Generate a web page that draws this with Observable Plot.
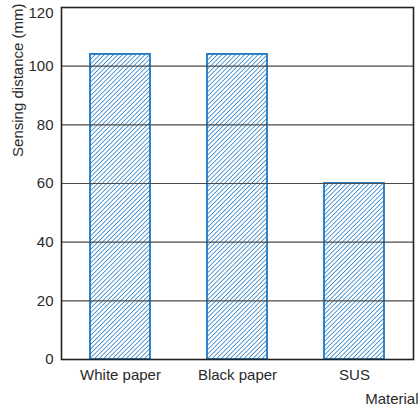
<!DOCTYPE html>
<html><head><meta charset="utf-8">
<script src="https://cdn.jsdelivr.net/npm/d3@7"></script>
<script src="https://cdn.jsdelivr.net/npm/@observablehq/plot@0.6"></script>
<style>body{margin:0;background:#fff}svg{font-family:"Liberation Sans",Arial,sans-serif}</style>
</head><body><div id="chart"></div>
<script>
const materials = ["White paper", "Black paper", "SUS"];
const distances = [104, 104, 60];
const yTicks = [0, 20, 40, 60, 80, 100];
const yTopTick = [120];
const gridValues = [20, 40, 60, 80, 100];
const yLabel = "Sensing distance (mm)";
const xLabel = "Material";

const data = materials.map((m, i) => ({material: m, distance: distances[i]}));
const blue = "#1c78c4";

const chart = Plot.plot({
  width: 420, height: 412,
  marginLeft: 61, marginRight: 7, marginTop: 7, marginBottom: 53,
  style: {fontSize: "15px", fontFamily: "Liberation Sans, Arial, sans-serif", color: "#2a2a2a", background: "#fff"},
  x: {domain: materials, paddingInner: 0.49, paddingOuter: 0.245, label: null},
  y: {domain: [0, 120], label: null},
  marks: [
    Plot.barY(data, {x: "material", y: "distance", fill: "url(#hatch)", stroke: blue, strokeWidth: 1.8}),
    Plot.ruleY(gridValues, {stroke: "#4a4a4a", strokeWidth: 1.1}),
    Plot.frame({stroke: "#222", strokeWidth: 1.6}),
    Plot.axisY(yTicks, {tickSize: 0, tickPadding: 8, label: null, fontSize: 15}),
    Plot.axisY(yTopTick, {tickSize: 0, tickPadding: 8, label: null, fontSize: 15, dy: 6}),
    Plot.axisX({tickSize: 0, tickPadding: 10, label: null, fontSize: 15}),
    Plot.text([yLabel], {frameAnchor: "top-left", dx: -49, dy: -4, rotate: -90, textAnchor: "end", fontSize: 15, fill: "#2a2a2a"}),
    Plot.text([xLabel], {frameAnchor: "bottom-right", dy: 44, dx: 5, textAnchor: "end", fontSize: 15, fill: "#2a2a2a"})
  ]
});

const ns = "http://www.w3.org/2000/svg";
const S = 3.2;
const defs = document.createElementNS(ns, "defs");
const pat = document.createElementNS(ns, "pattern");
pat.setAttribute("id", "hatch");
pat.setAttribute("patternUnits", "userSpaceOnUse");
pat.setAttribute("width", S);
pat.setAttribute("height", S);
pat.setAttribute("patternTransform", "rotate(45)");
const bg = document.createElementNS(ns, "rect");
bg.setAttribute("width", S); bg.setAttribute("height", S); bg.setAttribute("fill", "#fff");
const ln = document.createElementNS(ns, "line");
ln.setAttribute("x1", "0"); ln.setAttribute("y1", "0"); ln.setAttribute("x2", "0"); ln.setAttribute("y2", S);
ln.setAttribute("stroke", blue); ln.setAttribute("stroke-width", "1.45");
pat.appendChild(bg); pat.appendChild(ln); defs.appendChild(pat);
chart.insertBefore(defs, chart.firstChild);
document.getElementById("chart").appendChild(chart);
</script>
</body></html>
